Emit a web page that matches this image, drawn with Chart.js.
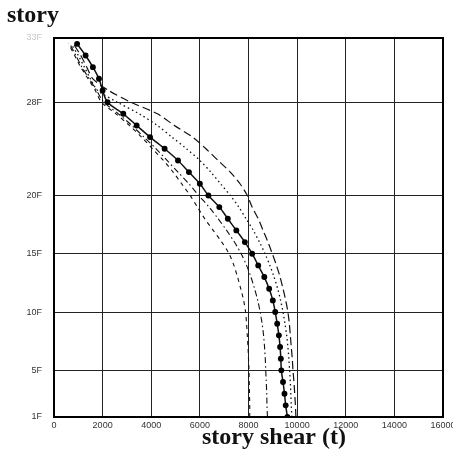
<!DOCTYPE html>
<html>
<head>
<meta charset="utf-8">
<script src="https://cdn.jsdelivr.net/npm/chart.js@4/dist/chart.umd.min.js"></script>
<style>
  html, body { margin: 0; padding: 0; background: #fff; }
  #wrap { width: 453px; height: 460px; }
</style>
</head>
<body>
<div id="wrap"><canvas id="c" width="453" height="460"></canvas></div>
<script>
// floors, 1F at the bottom up to the roof
const floors = [1, 2, 3, 4, 5, 6, 7, 8, 9, 10, 11, 12, 13, 14, 15, 16, 17, 18, 19, 20,
  21, 22, 23, 24, 25, 26, 27, 28, 29, 30, 31, 32, 33];

// story shear (t) per floor, same order as floors
const shearMarked = [9600, 9530, 9480, 9420, 9350, 9330, 9300, 9250, 9180, 9100, 9000, 8850, 8650, 8400, 8150,
  7850, 7500, 7150, 6800, 6350, 6000, 5550, 5100, 4550, 3950, 3400, 2850, 2200, 2000, 1850, 1600, 1300, 950];
const shearLongDash = [9950, 9930, 9900, 9870, 9830, 9800, 9760, 9720, 9680, 9620, 9530, 9420, 9300, 9150, 8980,
  8800, 8600, 8400, 8150, 7950, 7650, 7250, 6750, 6250, 5700, 4950, 4250, 3150, 2250, 1600, 1350, 1100, 800];
const shearDotted = [9780, 9760, 9740, 9720, 9690, 9660, 9620, 9570, 9500, 9420, 9320, 9200, 9050, 8880, 8680,
  8450, 8200, 7900, 7600, 7250, 6850, 6450, 6000, 5450, 4850, 4250, 3500, 2600, 1800, 1500, 1250, 1000, 700];
const shearDashDot = [8780, 8760, 8750, 8730, 8710, 8690, 8660, 8620, 8560, 8480, 8380, 8250, 8100, 7920, 7700,
  7420, 7100, 6750, 6380, 5950, 5550, 5100, 4650, 4200, 3700, 3200, 2650, 2050, 1750, 1450, 1150, 900, 650];
const shearDashed = [8050, 8050, 8040, 8030, 8020, 8000, 7980, 7950, 7920, 7880, 7800, 7680, 7550, 7400, 7200,
  6900, 6550, 6200, 5900, 5600, 5250, 4900, 4500, 4050, 3600, 3100, 2550, 1950, 1700, 1400, 1100, 850, 600];

// axis ticks
const yTickValues = [1, 5, 10, 15, 20, 28, 33.5];
const yTickLabels = ['1F', '5F', '10F', '15F', '20F', '28F', '33F'];
const xTickValues = [0, 2000, 4000, 6000, 8000, 10000, 12000, 14000, 16000];

function points(values) {
  return floors.map((f, i) => ({ x: values[i], y: f }));
}

// frame + the two big serif titles
const frameAndText = {
  id: 'frameAndText',
  afterDraw(chart) {
    const { ctx, chartArea: a } = chart;
    ctx.save();
    ctx.strokeStyle = '#000';
    ctx.lineWidth = 2;
    ctx.strokeRect(a.left, a.top, a.right - a.left, a.bottom - a.top);
    ctx.fillStyle = '#111';
    ctx.textBaseline = 'alphabetic';
    ctx.font = 'bold 24px "Liberation Serif"';
    ctx.fillText('story', 7, 22);
    ctx.fillText('story shear (t)', 202, 444);
    ctx.restore();
  }
};

const line = (values, dash, width) => ({
  data: points(values),
  borderColor: '#111',
  borderWidth: width,
  borderDash: dash,
  pointRadius: 0,
  tension: 0.3,
  fill: false
});

const marked = line(shearMarked, [], 1.5);
marked.pointRadius = 2.2;
marked.pointBackgroundColor = '#000';
marked.pointBorderColor = '#000';

new Chart(document.getElementById('c'), {
  type: 'line',
  data: {
    datasets: [
      line(shearDashed, [4, 4], 1.1),
      line(shearDashDot, [6, 3, 1.5, 3], 1.1),
      line(shearDotted, [1.5, 3], 1.3),
      line(shearLongDash, [8, 4], 1.2),
      marked
    ]
  },
  options: {
    responsive: false,
    animation: false,
    events: [],
    layout: { padding: { top: 38, right: 10, left: 0, bottom: 0 } },
    plugins: { legend: { display: false }, tooltip: { enabled: false } },
    scales: {
      x: {
        type: 'linear',
        min: 0,
        max: 16000,
        afterBuildTicks: (s) => { s.ticks = xTickValues.map(v => ({ value: v })); },
        afterFit: (s) => { s.height = 43; s.paddingLeft = 0; s.paddingRight = 0; },
        grid: { color: '#222', lineWidth: 1, drawTicks: false },
        border: { display: false },
        ticks: {
          padding: 3,
          maxRotation: 0,
          autoSkip: false,
          color: '#333',
          font: { family: 'Liberation Sans', size: 9 },
          callback: (v) => String(v)
        }
      },
      y: {
        type: 'linear',
        min: 1,
        max: 33.5,
        afterBuildTicks: (s) => { s.ticks = yTickValues.map(v => ({ value: v })); },
        afterFit: (s) => { s.width = 54; s.paddingTop = 0; s.paddingBottom = 0; },
        grid: { color: '#222', lineWidth: 1, drawTicks: false },
        border: { display: false },
        ticks: {
          padding: 12,
          autoSkip: false,
          color: (c) => (c.index === yTickValues.length - 1 ? '#c8c8c8' : '#333'),
          font: { family: 'Liberation Sans', size: 9 },
          callback: (v, i) => yTickLabels[i]
        }
      }
    }
  },
  plugins: [frameAndText]
});
</script>
</body>
</html>
